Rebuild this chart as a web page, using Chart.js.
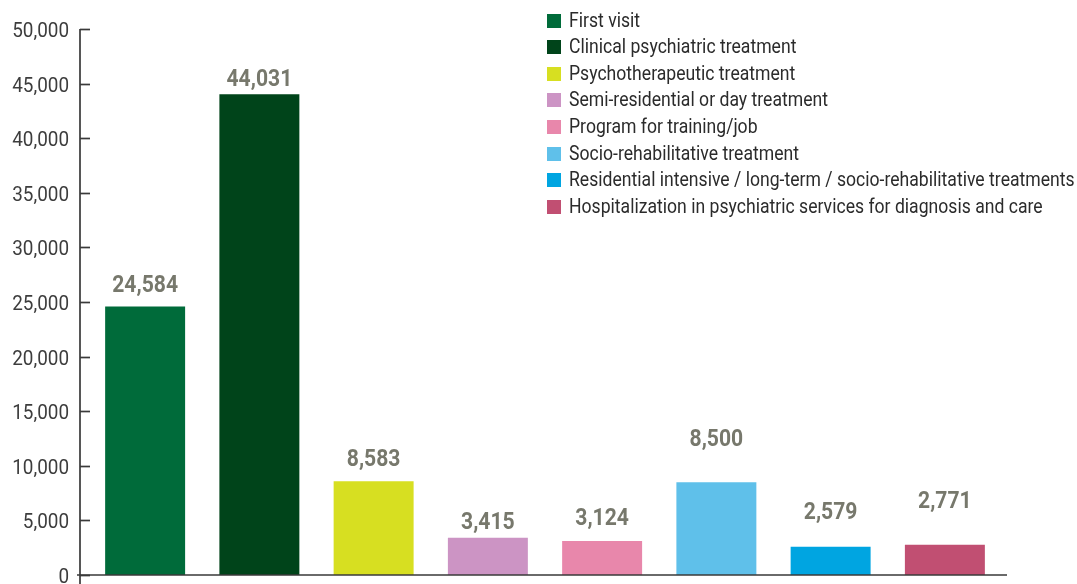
<!DOCTYPE html>
<html>
<head>
<meta charset="utf-8">
<script src="https://cdn.jsdelivr.net/npm/chart.js@4"></script>
<style>
  html, body { margin: 0; padding: 0; background: #ffffff; }
  #wrap { width: 1077px; height: 584px; position: relative; }
</style>
</head>
<body>
<div id="wrap"><canvas id="c" width="1077" height="584"></canvas></div>
<script>
// Service categories and the number of users for each
const categories = [
  'First visit',
  'Clinical psychiatric treatment',
  'Psychotherapeutic treatment',
  'Semi-residential or day treatment',
  'Program for training/job',
  'Socio-rehabilitative treatment',
  'Residential intensive / long-term / socio-rehabilitative treatments',
  'Hospitalization in psychiatric services for diagnosis and care'
];
const users = [24584, 44031, 8583, 3415, 3124, 8500, 2579, 2771];
const yTicks = [0, 5000, 10000, 15000, 20000, 25000, 30000, 35000, 40000, 45000, 50000];

// Styling
const barColors = ['#006b3a', '#00441a', '#d7df21', '#cc94c4', '#e887ab', '#5fc0ea', '#00a5e1', '#c14f72'];
const labelGap = [15, 8, 15, 9, 16, 36, 28, 37];
const FONT = 'Roboto, "Noto Sans", sans-serif';
const fmt = v => v.toLocaleString('en-US');

// Condensed text: draw with a horizontal squeeze
function narrowText(ctx, text, x, y, align, squeeze) {
  ctx.save();
  ctx.translate(x, y);
  ctx.scale(squeeze, 1);
  ctx.textAlign = align;
  ctx.fillText(text, 0, 0);
  ctx.restore();
}

// Axis lines, tick marks, tick labels, value labels and legend
const decorations = {
  id: 'decorations',
  afterDatasetsDraw(chart) {
    const ctx = chart.ctx;
    const y = chart.scales.y;
    const area = chart.chartArea;
    const axisX = area.left - 8;
    const zeroY = y.getPixelForValue(0);
    ctx.save();

    // value labels above bars
    const meta = chart.getDatasetMeta(0);
    ctx.font = 'bold 24px ' + FONT;
    ctx.fillStyle = '#77786c';
    ctx.textBaseline = 'alphabetic';
    meta.data.forEach((bar, i) => {
      narrowText(ctx, fmt(users[i]), bar.x, bar.y - labelGap[i], 'center', 0.88);
    });

    // axes
    ctx.strokeStyle = '#3a3a3a';
    ctx.lineWidth = 1.7;
    ctx.beginPath();
    ctx.moveTo(axisX, y.getPixelForValue(yTicks[yTicks.length - 1]));
    ctx.lineTo(axisX, chart.height);
    ctx.moveTo(axisX - 3, zeroY);
    ctx.lineTo(area.right + 5, zeroY);
    ctx.stroke();

    // ticks and tick labels
    ctx.font = '21px ' + FONT;
    ctx.fillStyle = '#3d3d3d';
    ctx.textBaseline = 'middle';
    yTicks.forEach(t => {
      const py = Math.round(y.getPixelForValue(t)) + 0.5;
      ctx.beginPath();
      ctx.moveTo(axisX, py);
      ctx.lineTo(axisX + 10, py);
      ctx.stroke();
      narrowText(ctx, fmt(t), axisX - 11, py + 2, 'right', 0.9);
    });

    // legend
    ctx.font = '20px ' + FONT;
    ctx.textBaseline = 'middle';
    categories.forEach((name, i) => {
      const cy = 20.5 + i * 26.6;
      ctx.fillStyle = barColors[i];
      ctx.fillRect(547, Math.round(cy - 7), 14, 14);
      ctx.fillStyle = '#2b2b2b';
      narrowText(ctx, name, 569, cy + 1, 'left', 0.88);
    });
    ctx.restore();
  }
};

new Chart(document.getElementById('c'), {
  type: 'bar',
  data: {
    labels: categories,
    datasets: [{
      data: users,
      backgroundColor: barColors,
      borderWidth: 0,
      barPercentage: 0.7,
      categoryPercentage: 1.0
    }]
  },
  options: {
    responsive: false,
    devicePixelRatio: 1,
    animation: false,
    layout: { padding: { left: 88, right: 75, top: 29, bottom: 9 } },
    plugins: { legend: { display: false }, tooltip: { enabled: false } },
    scales: {
      x: { display: false, offset: true },
      y: { display: false, min: 0, max: 50000 }
    }
  },
  plugins: [decorations]
});
</script>
</body>
</html>
